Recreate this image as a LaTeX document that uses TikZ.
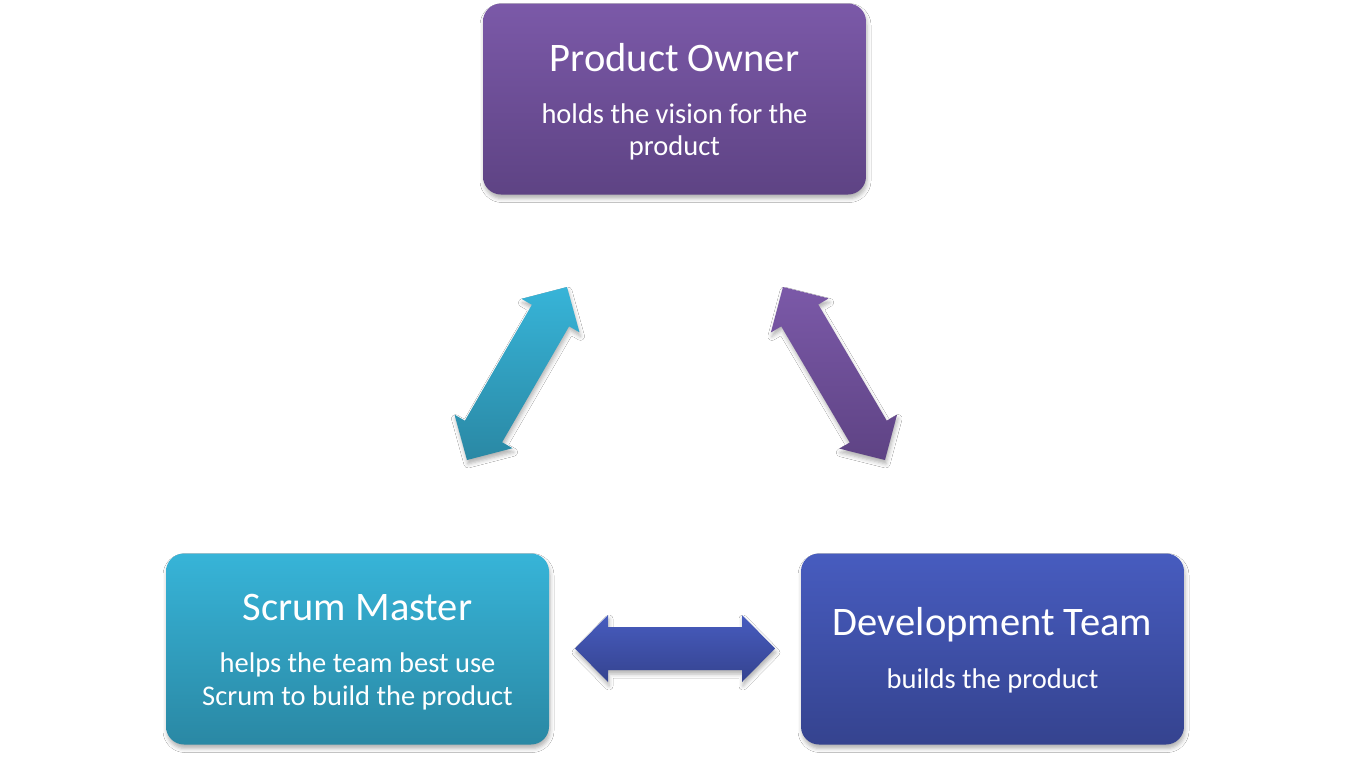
\documentclass[tikz,border=0pt]{standalone}
\usepackage{fontspec}
\setmainfont{Carlito}
\usetikzlibrary{calc,shadows.blur}
\definecolor{poTop}{HTML}{7B59A8}
\definecolor{poBot}{HTML}{5E4384}
\definecolor{smTop}{HTML}{37B4D8}
\definecolor{smBot}{HTML}{2A88A4}
\definecolor{dtTop}{HTML}{475CBF}
\definecolor{dtBot}{HTML}{35438F}
\tikzset{
  rolebox/.style={rectangle, rounded corners=18pt, minimum width=383pt, minimum height=191pt, inner sep=0pt,
    blur shadow={shadow xshift=1pt, shadow yshift=-4pt, shadow blur radius=4pt, shadow opacity=30}},
  titletext/.style={text=white, font=\fontsize{40.5}{44}\selectfont, anchor=base},
  subtext/.style={text=white, font=\fontsize{28.5}{32}\selectfont, anchor=base},
  blockarrow/.style={blur shadow={shadow xshift=1pt, shadow yshift=-4pt, shadow blur radius=4pt, shadow opacity=30}},
}
\newcommand\dblarrow[3]{%
  \path[blockarrow,#3] (#1)
   -- ($(#1)!33pt!(#2)!33.5pt!90:(#2)$)
   -- ($(#1)!33pt!(#2)!21.5pt!90:(#2)$)
   -- ($(#2)!33pt!(#1)!21.5pt!-90:(#1)$)
   -- ($(#2)!33pt!(#1)!33.5pt!-90:(#1)$)
   -- (#2)
   -- ($(#2)!33pt!(#1)!33.5pt!90:(#1)$)
   -- ($(#2)!33pt!(#1)!21.5pt!90:(#1)$)
   -- ($(#1)!33pt!(#2)!21.5pt!-90:(#2)$)
   -- ($(#1)!33pt!(#2)!33.5pt!-90:(#2)$)
   -- cycle;}
\begin{document}
\begin{tikzpicture}[x=1pt,y=-1pt]
\fill[white] (0,0) rectangle (1350,756);
\useasboundingbox (0,0) rectangle (1350,756);
% boxes
\node[rolebox, top color=poTop, bottom color=poBot] (po) at (674.5,99) {};
\node[rolebox, top color=smTop, bottom color=smBot] (sm) at (357.5,649) {};
\node[rolebox, top color=dtTop, bottom color=dtBot] (dt) at (992.5,649) {};
% texts
\node[titletext] (poT) at (674.5,71) {Product Owner};
\node[subtext] (poS1) at (674.5,123) {holds the vision for the};
\node[subtext] (poS2) at (674.5,155) {product};
\node[titletext] (smT) at (357.5,620) {Scrum Master};
\node[subtext] (smS1) at (357.5,672) {helps the team best use};
\node[subtext] (smS2) at (357.5,705) {Scrum to build the product};
\node[titletext] (dtT) at (992.5,635) {Development Team};
\node[subtext] (dtS) at (992.5,688) {builds the product};
% arrow ends
\coordinate (smUp) at (467,460);
\coordinate (poL) at (567,287);
\coordinate (poR) at (783,287);
\coordinate (dtUp) at (885,460);
\coordinate (smR) at (575,648.5);
\coordinate (dtL) at (775,648.5);
\dblarrow{smUp}{poL}{top color=smTop, bottom color=smBot}
\dblarrow{poR}{dtUp}{top color=poTop, bottom color=poBot}
\dblarrow{smR}{dtL}{top color=dtTop, bottom color=dtBot}
\end{tikzpicture}
\end{document}
